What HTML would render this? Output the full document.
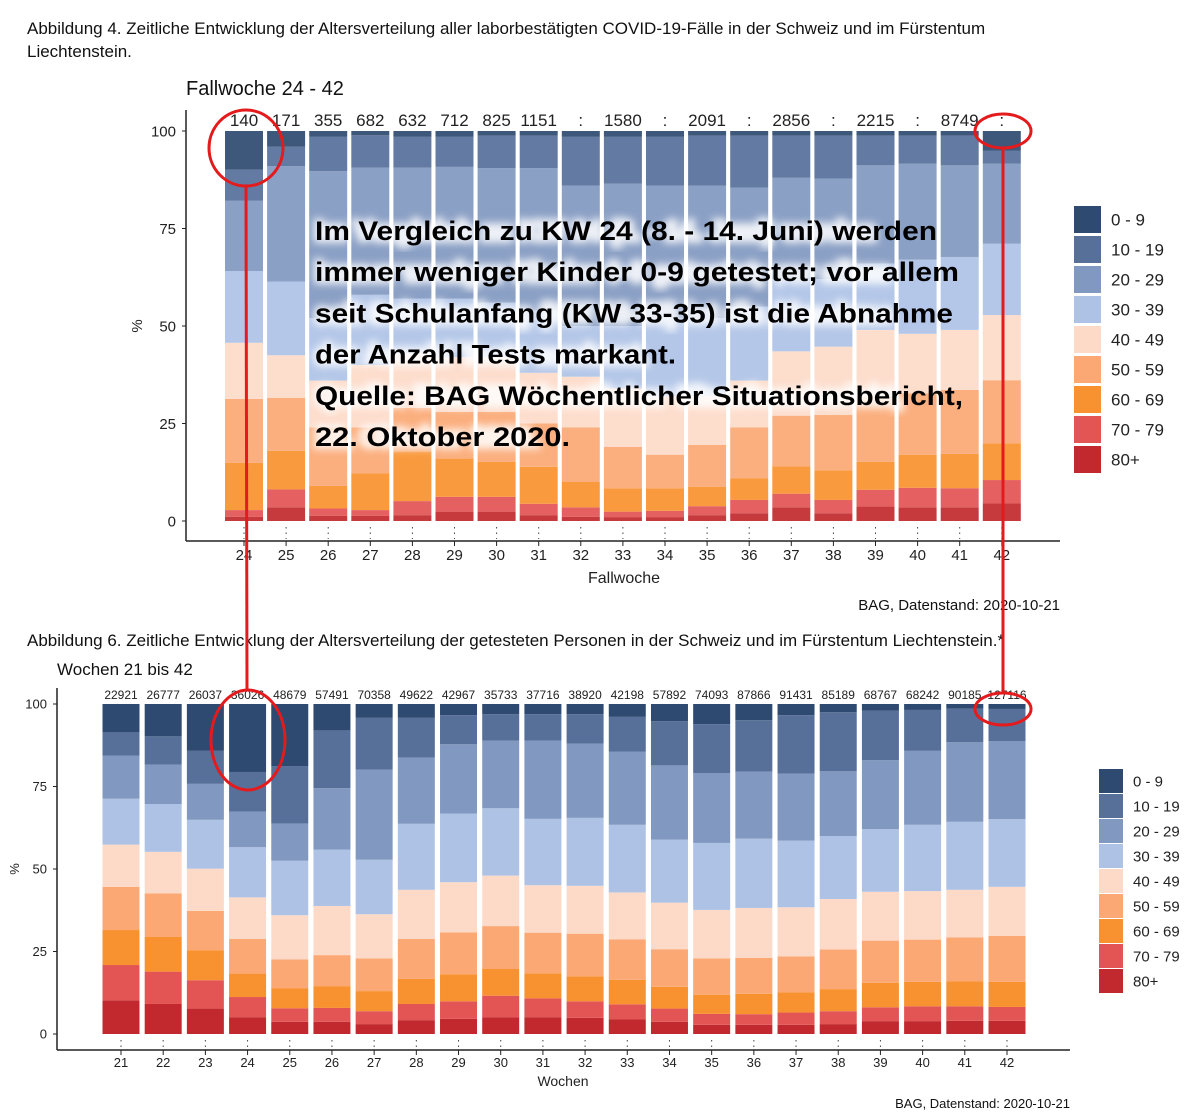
<!DOCTYPE html>
<html><head><meta charset="utf-8">
<style>
body{margin:0;background:#fff;}
svg{display:block;font-family:"Liberation Sans",Arial,sans-serif;}
</style></head>
<body>
<svg id="s" width="1200" height="1118" viewBox="0 0 1200 1118">
<defs><filter id="glow" x="-5%" y="-20%" width="110%" height="140%"><feGaussianBlur stdDeviation="4"/></filter></defs>
<text x="27" y="34" font-size="17" fill="#111">Abbildung 4. Zeitliche Entwicklung der Altersverteilung aller laborbestätigten COVID-19-Fälle in der Schweiz und im Fürstentum</text>
<text x="27" y="57" font-size="17" fill="#111">Liechtenstein.</text>
<text x="186" y="95" font-size="20" fill="#111">Fallwoche 24 - 42</text>
<g id="top"></g>
<text x="1060" y="610" font-size="15" text-anchor="end" fill="#111">BAG, Datenstand: 2020-10-21</text>
<text x="27" y="646" font-size="17" fill="#111">Abbildung 6. Zeitliche Entwicklung der Altersverteilung der getesteten Personen in der Schweiz und im Fürstentum Liechtenstein.*</text>
<text x="57" y="675" font-size="17" fill="#111">Wochen 21 bis 42</text>
<g id="bot"></g>
<text x="1070" y="1108" font-size="13" text-anchor="end" fill="#111">BAG, Datenstand: 2020-10-21</text>
<g id="overlay"></g>
<g id="ann" fill="none" stroke="#e41a1c" stroke-width="3">
<line x1="246" y1="186" x2="247" y2="690"/>
<line x1="1003" y1="148" x2="1003" y2="694"/>
<ellipse cx="246" cy="148" rx="37" ry="38"/>
<ellipse cx="1003" cy="131" rx="28" ry="17"/>
<ellipse cx="248" cy="740" rx="37" ry="50"/>
<ellipse cx="1003" cy="709" rx="28" ry="16"/>
</g>
</svg>
<script>
const ageGroups=["0 - 9","10 - 19","20 - 29","30 - 39","40 - 49","50 - 59","60 - 69","70 - 79","80+"];
const colors=["#2e4a70","#56709a","#8198c0","#aec2e6","#fddac8","#fba874","#f8912f","#e35454","#c1292e"];
const yTicks=[0,25,50,75,100];
// top chart
const topWeeks=[24,25,26,27,28,29,30,31,32,33,34,35,36,37,38,39,40,41,42];
const topCounts=["140","171","355","682","632","712","825","1151",":","1580",":","2091",":","2856",":","2215",":","8749",":"];
// cumulative boundaries from bottom: tops of 80+,70-79,60-69,50-59,40-49,30-39,20-29,10-19
const topCum=[
[1.1,2.8,14.9,31.3,45.7,64.1,82.1,90.1],
[3.5,8.1,18.0,31.6,42.5,61.4,91,96],
[1.3,3.2,9.0,24,36,52,89.7,98.5],
[1.3,2.8,12.2,24,40,58,90.6,98.9],
[1.5,5.1,17.8,29,43,57,90.6,98.5],
[2.4,6.2,16,28,42,57,90.8,98.5],
[2.4,6.2,15.2,28,42,56,90.5,98.8],
[1.5,4.4,13.9,25,38,54,90.5,98.8],
[1.1,3.5,10,24,37,50,86,98.5],
[1,2.4,8.4,19,34,50,86.5,98.5],
[1,2.6,8.4,17,32,52,86,98.5],
[1.5,3.8,8.8,19.5,32,52,86,98.8],
[2,5.4,10.9,24,36,55,85.5,98.8],
[3.5,7,14,27,43.5,62,88,98.8],
[2,5.4,13,27.2,44.7,62,87.8,98.8],
[3.7,8,15.2,31.9,49,66,91.2,98.8],
[3.5,8.5,17,32.7,48,67,91.6,98.8],
[3.5,8.4,17.2,33.6,49,67.7,91.2,98.8],
[4.5,10.5,19.9,36.1,52.8,71.1,91.6,95]];
// bottom chart
const botWeeks=[21,22,23,24,25,26,27,28,29,30,31,32,33,34,35,36,37,38,39,40,41,42];
const botCounts=["22921","26777","26037","36026","48679","57491","70358","49622","42967","35733","37716","38920","42198","57892","74093","87866","91431","85189","68767","68242","90185","127116"];
const botCum=[
[10.2,20.9,31.5,44.6,57.4,71.3,84.4,91.4],
[9.1,18.9,29.4,42.6,55.2,69.7,81.6,90.2],
[7.7,16.3,25.4,37.3,50.1,64.9,75.8,85.8],
[5.1,11.2,18.3,28.8,41.4,56.6,67.4,79.4],
[3.7,7.8,13.9,22.6,36.0,52.5,63.8,81.2],
[3.7,7.9,14.5,23.9,38.8,55.9,74.5,92.0],
[3.0,6.9,13.0,22.9,36.3,52.8,80.1,95.8],
[4.2,9.1,16.7,28.8,43.7,63.7,83.8,95.8],
[4.6,9.9,18.1,30.8,46.0,66.8,87.8,96.6],
[5.1,11.6,19.7,32.7,48.0,68.4,88.9,96.9],
[5.1,10.8,18.4,30.7,45.1,65.2,88.9,96.9],
[4.9,9.9,17.5,30.4,44.9,65.5,88.0,96.9],
[4.4,9.0,16.4,28.7,42.9,63.4,85.6,96.1],
[3.7,7.7,14.3,25.7,39.8,58.9,81.4,94.8],
[2.8,6.1,11.9,22.9,37.6,57.9,79.0,93.9],
[2.8,6.0,12.2,23.1,38.2,59.2,79.5,95.1],
[2.8,6.5,12.6,23.5,38.4,58.6,78.9,96.6],
[3.0,6.9,13.6,25.6,40.9,60.0,79.6,97.5],
[3.9,8.1,15.5,28.3,43.1,62.1,83.0,98.0],
[3.9,8.4,15.8,28.6,43.3,63.4,85.8,98.2],
[4.0,8.4,16.0,29.3,43.7,64.3,88.4,98.6],
[4.0,8.2,15.8,29.7,44.6,65.1,88.7,98.5]];
const NS="http://www.w3.org/2000/svg";
function mk(p,tag,at,txt){const e=document.createElementNS(NS,tag);for(const k in at)e.setAttribute(k,at[k]);if(txt!==undefined)e.textContent=txt;p.appendChild(e);return e;}
function draw(g,o){
  const y=v=>o.y0-(o.y0-o.y100)*v/100;
  const x=i=>o.xFirst+i*o.step;
  mk(g,'line',{x1:o.axL,y1:o.axTop,x2:o.axL,y2:o.axB,stroke:'#222','stroke-width':1.5});
  mk(g,'line',{x1:o.axL,y1:o.axB,x2:o.axR,y2:o.axB,stroke:'#222','stroke-width':1.5});
  yTicks.forEach(t=>{
    const l=mk(g,'text',{x:o.axL-10,y:y(t)+o.fs*0.35,'font-size':o.fs,'text-anchor':'end',fill:'#222'},t);
    
    
    mk(g,'line',{x1:o.axL-4,y1:y(t),x2:o.axL,y2:y(t),stroke:'#222'});
  });
  o.weeks.forEach((w,i)=>{
    const cx=x(i);
    const bar=mk(g,'g',{});
    
    
    const c=o.cum[i];
    const b=[0].concat(c).concat([100]);
    for(let k=0;k<9;k++){
      const lo=b[k],hi=b[k+1];
      const r=mk(bar,'rect',{x:cx-o.bw/2,y:y(hi),width:o.bw,height:Math.max(0,y(lo)-y(hi)),fill:colors[8-k],opacity:o.op});
      
      
    }
    const t=mk(g,'text',{x:cx,y:o.cntY,'font-size':o.cfs,'text-anchor':'middle',fill:'#222'},o.counts[i]);
    
    
    mk(g,'line',{x1:cx,y1:o.y0+6,x2:cx,y2:o.axB-2,stroke:'#444','stroke-dasharray':'1.5,4'});
    mk(g,'line',{x1:cx,y1:o.axB,x2:cx,y2:o.axB+5,stroke:'#222'});
    const xl=mk(g,'text',{x:cx,y:o.axB+o.fs+4,'font-size':o.fs,'text-anchor':'middle',fill:'#222'},w);
    
    
  });
  const xt=mk(g,'text',{x:o.xtX,y:o.xtY,'font-size':o.tfs,'text-anchor':'middle',fill:'#222'},o.xTitle);
  
  
  const yt=mk(g,'text',{x:o.ytX,y:(o.y0+o.y100)/2,'font-size':o.fs,'text-anchor':'middle',fill:'#222',transform:`rotate(-90 ${o.ytX} ${(o.y0+o.y100)/2})`},'%');
  
  
  ageGroups.forEach((a,k)=>{
    const ly=o.legY+k*o.legStep;
    const lg=mk(g,'g',{});
    
    
    mk(lg,'rect',{x:o.legX,y:ly,width:o.legS,height:o.legS,fill:colors[k]});
    mk(lg,'text',{x:o.legX+o.legS+10,y:ly+o.legS*0.72,'font-size':o.lfs,fill:'#222'},a);
  });
}
draw(document.getElementById('top'),{weeks:topWeeks,cum:topCum,counts:topCounts,y0:521,y100:131,xFirst:244,step:42.1,bw:38,
 axL:186,axR:1060,axTop:110,axB:541,fs:15,cfs:17,cntY:126,xTitle:'Fallwoche',xtX:624,xtY:583,tfs:16,ytX:142,
 legX:1074,legY:206,legStep:30,legS:27,lfs:17,op:0.92});
draw(document.getElementById('bot'),{weeks:botWeeks,cum:botCum,counts:botCounts,y0:1034,y100:704,xFirst:121,step:42.19,bw:37,
 axL:57,axR:1070,axTop:688,axB:1050,fs:13,cfs:12,cntY:699,xTitle:'Wochen',xtX:563,xtY:1086,tfs:14,ytX:19,
 legX:1099,legY:769,legStep:25,legS:24,lfs:15,op:1});
const lines=["Im Vergleich zu KW 24 (8. - 14. Juni) werden","immer weniger Kinder 0-9 getestet; vor allem","seit Schulanfang (KW 33-35) ist die Abnahme","der Anzahl Tests markant.","Quelle: BAG Wöchentlicher Situationsbericht,","22. Oktober 2020."];
const ov=document.getElementById('overlay');
lines.forEach((l,i)=>{
  mk(ov,'text',{x:315,y:240+i*41.2,'font-size':27,'font-weight':'bold',fill:'#fff',stroke:'#fff','stroke-width':6,filter:'url(#glow)',opacity:0.85},l);
});
lines.forEach((l,i)=>{
  const t=mk(ov,'text',{x:315,y:240+i*41.2,'font-size':27,'font-weight':'bold',fill:'#000',textLength:[622,644,638,361,648,255][i],lengthAdjust:'spacingAndGlyphs'},l);
  
  
});
</script>
</body></html>
